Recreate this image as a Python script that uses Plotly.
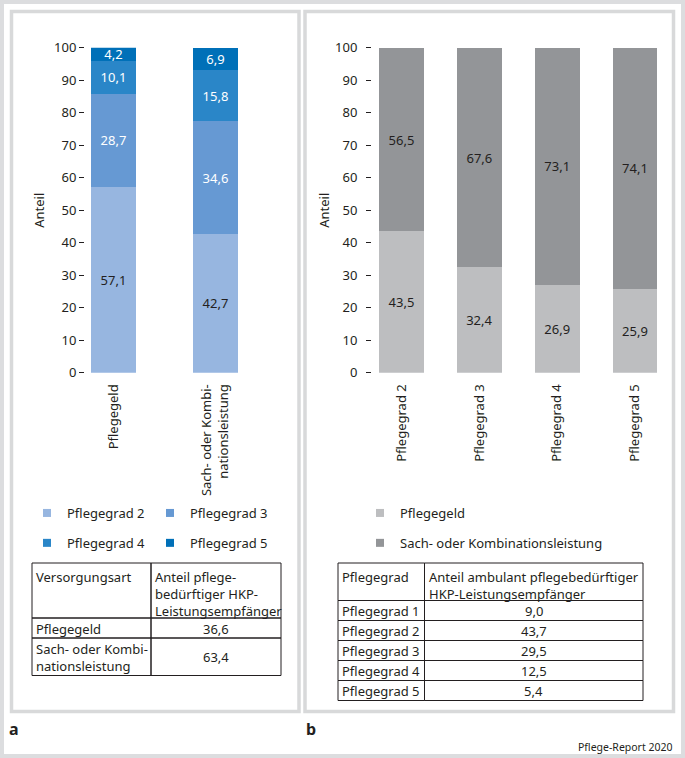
import plotly.graph_objects as go

# ---------------- data ----------------
left_categories = ["Pflegegeld", "Sach- oder Kombi-<br>nationsleistung"]
left_series_names = ["Pflegegrad 2", "Pflegegrad 3", "Pflegegrad 4", "Pflegegrad 5"]
left_pg2 = [57.1, 42.7]
left_pg3 = [28.7, 34.6]
left_pg4 = [10.1, 15.8]
left_pg5 = [4.2, 6.9]

right_categories = ["Pflegegrad 2", "Pflegegrad 3", "Pflegegrad 4", "Pflegegrad 5"]
right_names = ["Pflegegeld", "Sach- oder Kombinationsleistung"]
right_pflegegeld = [43.5, 32.4, 26.9, 25.9]
right_sach = [56.5, 67.6, 73.1, 74.1]

y_ticks = [0, 10, 20, 30, 40, 50, 60, 70, 80, 90, 100]

table_a_header = ["Versorgungsart", "Anteil pflege-<br>bedürftiger HKP-<br>Leistungsempfänger"]
table_a_rows = ["Pflegegeld", "Sach- oder Kombi-<br>nationsleistung"]
table_a_values = [36.6, 63.4]

table_b_header = ["Pflegegrad", "Anteil ambulant pflegebedürftiger<br>HKP-Leistungsempfänger"]
table_b_rows = ["Pflegegrad 1", "Pflegegrad 2", "Pflegegrad 3", "Pflegegrad 4", "Pflegegrad 5"]
table_b_values = [9.0, 43.7, 29.5, 12.5, 5.4]

# ---------------- styles ----------------
W, H = 685, 758
FONT = "Noto Sans"
DARK = "#231f20"
BORDER = "#d8d9da"
blue_colors = ["#97b6e0", "#6699d3", "#2a86c8", "#0070b8"]
blue_text = [DARK, "white", "white", "white"]
gray_colors = ["#bdbec0", "#939598"]


def px(x):
    return x / W


def py(y):
    return 1 - y / H


def fmt(v):
    return f"{v:.1f}".replace(".", ",")


fig = go.Figure()

left_vals = [left_pg2, left_pg3, left_pg4, left_pg5]
for name, vals, col, tcol in zip(left_series_names, left_vals, blue_colors, blue_text):
    fig.add_trace(go.Bar(
        x=left_categories, y=vals, name=name, width=0.441,
        marker=dict(color=col, line=dict(width=0)),
        texttemplate="%{y:.1f}", textposition="inside",
        insidetextanchor="middle", textangle=0,
        textfont=dict(color=tcol, size=13, family=FONT),
        xaxis="x", yaxis="y", showlegend=False, hoverinfo="skip",
    ))

right_vals = [right_pflegegeld, right_sach]
for name, vals, col in zip(right_names, right_vals, gray_colors):
    fig.add_trace(go.Bar(
        x=right_categories, y=vals, name=name, width=0.578,
        marker=dict(color=col, line=dict(width=0)),
        texttemplate="%{y:.1f}", textposition="inside",
        insidetextanchor="middle", textangle=0,
        textfont=dict(color=DARK, size=13, family=FONT),
        xaxis="x2", yaxis="y2", showlegend=False, hoverinfo="skip",
    ))

# legend entries (small square symbols, two columns on the left)
legend_layout_left = [("legend", 0), ("legend2", 1), ("legend", 2), ("legend2", 3)]
for (lg, i) in legend_layout_left:
    fig.add_trace(go.Scatter(
        x=[None], y=[None], mode="markers", name=left_series_names[i],
        marker=dict(symbol="square", size=8, color=blue_colors[i]),
        legend=lg, legendgroup=left_series_names[i], showlegend=True,
        xaxis="x", yaxis="y", hoverinfo="skip",
    ))
for name, col in zip(right_names, gray_colors):
    fig.add_trace(go.Scatter(
        x=[None], y=[None], mode="markers", name=name,
        marker=dict(symbol="square", size=8, color=col),
        legend="legend3", legendgroup=name, showlegend=True,
        xaxis="x2", yaxis="y2", hoverinfo="skip",
    ))


# ---------------- tables (drawn as ruled cells with text) ----------------
def draw_table(col_edges, top, header, col1, col2, size=13):
    rows = [(header[0], header[1], True)] + [(a, b, False) for a, b in zip(col1, col2)]
    y = top
    for c1, c2, is_header in rows:
        n = max(c1.count("<br>"), c2.count("<br>")) + 1
        h = 17.5 * n + 2.5
        for ci, cell in enumerate((c1, c2)):
            x0, x1 = col_edges[ci], col_edges[ci + 1]
            fig.add_shape(type="rect", xref="paper", yref="paper",
                          x0=px(x0), x1=px(x1), y0=py(y + h), y1=py(y),
                          line=dict(color=DARK, width=1), fillcolor="rgba(0,0,0,0)")
            left = is_header or ci == 0
            if is_header:
                ty, yanchor = py(y + 2.5), "top"
            else:
                ty, yanchor = py(y + h / 2 + 0.5), "middle"
            fig.add_annotation(
                text=cell, xref="paper", yref="paper",
                x=px(x0 + 2) if left else px((x0 + x1) / 2), y=ty,
                xanchor="left" if left else "center", yanchor=yanchor,
                align="left" if left else "center", showarrow=False,
                font=dict(family=FONT, size=size, color=DARK),
            )
        y += h


draw_table([32, 151, 281], 563, table_a_header, table_a_rows,
           [fmt(v) for v in table_a_values])
draw_table([338, 424.5, 643], 563, table_b_header, table_b_rows,
           [fmt(v) for v in table_b_values])

ydom = [py(372.7), py(47.7)]
axis_font = dict(family=FONT, size=13, color=DARK)
yaxis_common = dict(range=[0, 100], tickvals=y_ticks, ticks="outside", ticklen=5,
                    tickcolor=DARK, tickwidth=1, showgrid=False, zeroline=False,
                    showline=False, tickfont=axis_font, domain=ydom, fixedrange=True,
                    automargin=False)
xaxis_common = dict(type="category", showgrid=False, zeroline=False, showline=False,
                    ticks="", tickangle=-90, tickfont=axis_font, fixedrange=True,
                    automargin=False)

legend_common = dict(xanchor="left", yanchor="top", orientation="v", tracegroupgap=10,
                     font=axis_font, bgcolor="rgba(0,0,0,0)", borderwidth=0)

fig.update_layout(
    width=W, height=H,
    margin=dict(l=0, r=0, t=0, b=0, autoexpand=False),
    paper_bgcolor="white", plot_bgcolor="white",
    separators=",.",
    barmode="stack",
    font=dict(family=FONT, size=13, color=DARK),
    uniformtext=dict(minsize=13, mode="show"),
    xaxis=dict(xaxis_common, domain=[px(85), px(265)], range=[-0.2794, 1.4853],
               anchor="y", ticklabelstandoff=8),
    yaxis=dict(yaxis_common, anchor="x",
               title=dict(text="Anteil", font=axis_font, standoff=6)),
    xaxis2=dict(xaxis_common, domain=[px(372), px(665)], range=[-0.379, 3.3856],
                anchor="y2", ticklabelstandoff=8),
    yaxis2=dict(yaxis_common, anchor="x2", ticklabelstandoff=6,
                title=dict(text="Anteil", font=axis_font, standoff=2)),
    legend=dict(legend_common, x=px(27), y=py(498)),
    legend2=dict(legend_common, x=px(150), y=py(498)),
    legend3=dict(legend_common, x=px(360), y=py(498)),
    showlegend=True,
)

# frames
fig.add_shape(type="rect", xref="paper", yref="paper",
              x0=px(2), x1=px(683), y0=py(756), y1=py(2),
              line=dict(color="#dcdddf", width=4), layer="below")
fig.add_shape(type="rect", xref="paper", yref="paper",
              x0=px(11.5), x1=px(299), y0=py(711.5), y1=py(11.5),
              line=dict(color=BORDER, width=3.5), layer="below")
fig.add_shape(type="rect", xref="paper", yref="paper",
              x0=px(305), x1=px(673.5), y0=py(711.5), y1=py(11.5),
              line=dict(color=BORDER, width=3.5), layer="below")

fig.add_annotation(text="<b>a</b>", x=px(7), y=py(729), xref="paper", yref="paper",
                   xanchor="left", yanchor="middle", showarrow=False,
                   font=dict(family=FONT, size=16, color=DARK))
fig.add_annotation(text="<b>b</b>", x=px(304), y=py(729), xref="paper", yref="paper",
                   xanchor="left", yanchor="middle", showarrow=False,
                   font=dict(family=FONT, size=16, color=DARK))
fig.add_annotation(text="Pflege-Report 2020", x=px(675), y=py(747), xref="paper", yref="paper",
                   xanchor="right", yanchor="middle", showarrow=False,
                   font=dict(family=FONT, size=10.5, color=DARK))

fig.write_html(
    "out.html",
    config={"displayModeBar": False},
    post_script="document.body.style.margin='0';document.body.style.overflow='hidden';",
)
